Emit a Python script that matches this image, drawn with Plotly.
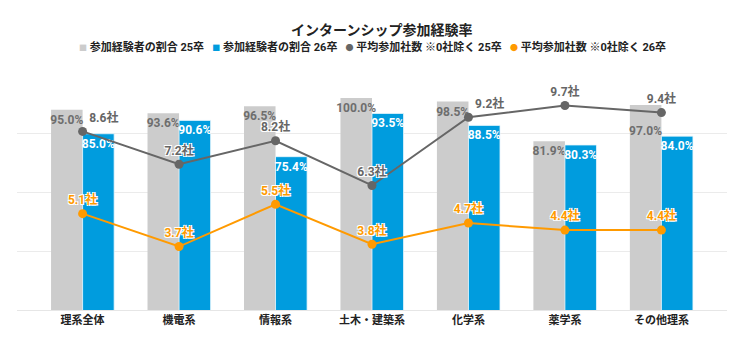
import plotly.graph_objects as go

categories = ["理系全体", "機電系", "情報系", "土木・建築系", "化学系", "薬学系", "その他理系"]
rate25 = [95.0, 93.6, 96.5, 100.0, 98.5, 81.9, 97.0]
rate26 = [85.0, 90.6, 75.4, 93.5, 88.5, 80.3, 84.0]
avg25 = [8.6, 7.2, 8.2, 6.3, 9.2, 9.7, 9.4]
avg26 = [5.1, 3.7, 5.5, 3.8, 4.7, 4.4, 4.4]

names = ["参加経験者の割合 25卒", "参加経験者の割合 26卒",
         "平均参加社数 ※0社除く 25卒", "平均参加社数 ※0社除く 26卒"]

FONT = "Roboto, 'Noto Sans CJK JP', sans-serif"
GRAY_BAR = "#CCCCCC"
BLUE = "#009CDE"
GRAY_LINE = "#666666"
ORANGE = "#FF9A00"
WHITE_OUTLINE = "-1px -1px 0 #fff, 1px -1px 0 #fff, -1px 1px 0 #fff, 1px 1px 0 #fff"

# line labels that would collide with the 25卒 bar label are shifted right;
# the bar label under a close marker is dropped one line
avg25_pos = ["top right" if c in ("理系全体", "化学系") else "top center" for c in categories]
rate25_text = [("&nbsp;<br>" if c == "その他理系" else "") + f"{v:.1f}%"
               for c, v in zip(categories, rate25)]

fig = go.Figure()
fig.add_trace(go.Bar(
    x=categories, y=rate25, name=names[0], marker=dict(color=GRAY_BAR, line=dict(width=0)),
    text=rate25_text, textposition="inside", insidetextanchor="end",
    textangle=0, constraintext="none", cliponaxis=False,
    textfont=dict(color="#6E6E6E", size=12, family=FONT, weight="bold"),
))
fig.add_trace(go.Bar(
    x=categories, y=rate26, name=names[1], marker=dict(color=BLUE, line=dict(width=0.8, color="#E8F6FD")),
    text=[f"{v:.1f}%" for v in rate26], textposition="inside", insidetextanchor="end",
    textangle=0, constraintext="none", cliponaxis=False,
    textfont=dict(color="white", size=12, family=FONT, weight="bold"),
))
fig.add_trace(go.Scatter(
    x=categories, y=avg25, name=names[2], yaxis="y2", mode="lines+markers+text",
    line=dict(color=GRAY_LINE, width=2), marker=dict(color=GRAY_LINE, size=9),
    text=[f"{v:.1f}社" for v in avg25], textposition=avg25_pos, cliponaxis=False,
    textfont=dict(color=GRAY_LINE, size=12, family=FONT, weight="bold", shadow=WHITE_OUTLINE),
))
fig.add_trace(go.Scatter(
    x=categories, y=avg26, name=names[3], yaxis="y2", mode="lines+markers+text",
    line=dict(color=ORANGE, width=2), marker=dict(color=ORANGE, size=9),
    text=[f"{v:.1f}社" for v in avg26], textposition="top center", cliponaxis=False,
    textfont=dict(color=ORANGE, size=12, family=FONT, weight="bold", shadow=WHITE_OUTLINE),
))

# compact legend line (small symbols as in the original)
symbols = ["■", "■", "●", "●"]
sym_colors = [GRAY_BAR, BLUE, GRAY_LINE, ORANGE]
legend_parts = [f"<span style='color:{c};font-size:8px'>{s}</span> {n}"
                for s, c, n in zip(symbols, sym_colors, names)]
legend_text = "&nbsp;&nbsp;&nbsp;".join(legend_parts)

fig.update_layout(
    width=750, height=343,
    margin=dict(l=17, r=23, t=75, b=33),
    paper_bgcolor="white", plot_bgcolor="white",
    font=dict(family=FONT, color="#222222"),
    barmode="group", bargap=0.346, bargroupgap=0,
    showlegend=False,
    title=dict(text="<b>インターンシップ参加経験率</b>", x=0.509, xanchor="center",
               y=0.913, yanchor="middle", font=dict(size=14, color="#222222", family=FONT)),
    annotations=[dict(text=legend_text, xref="paper", yref="paper", x=0.5007, y=1 + 28 / 235,
                      xanchor="center", yanchor="middle", showarrow=False,
                      font=dict(size=11, color="#222222", family=FONT, weight="bold"))],
    xaxis=dict(range=[-0.68, 6.68], showgrid=False, showline=True, linecolor="#E6E6E6",
               linewidth=1, ticks="", tickfont=dict(size=11, color="#222222", family=FONT, weight="bold")),
    yaxis=dict(range=[11.2, 109.6], showgrid=False, showticklabels=False, zeroline=False),
    yaxis2=dict(range=[1, 11], overlaying="y", side="left", tickvals=[1, 3.5, 6, 8.5, 11],
                showgrid=True, gridcolor="#EBEBEB", gridwidth=1, showticklabels=False,
                zeroline=False),
)

fig.write_html("out.html")
